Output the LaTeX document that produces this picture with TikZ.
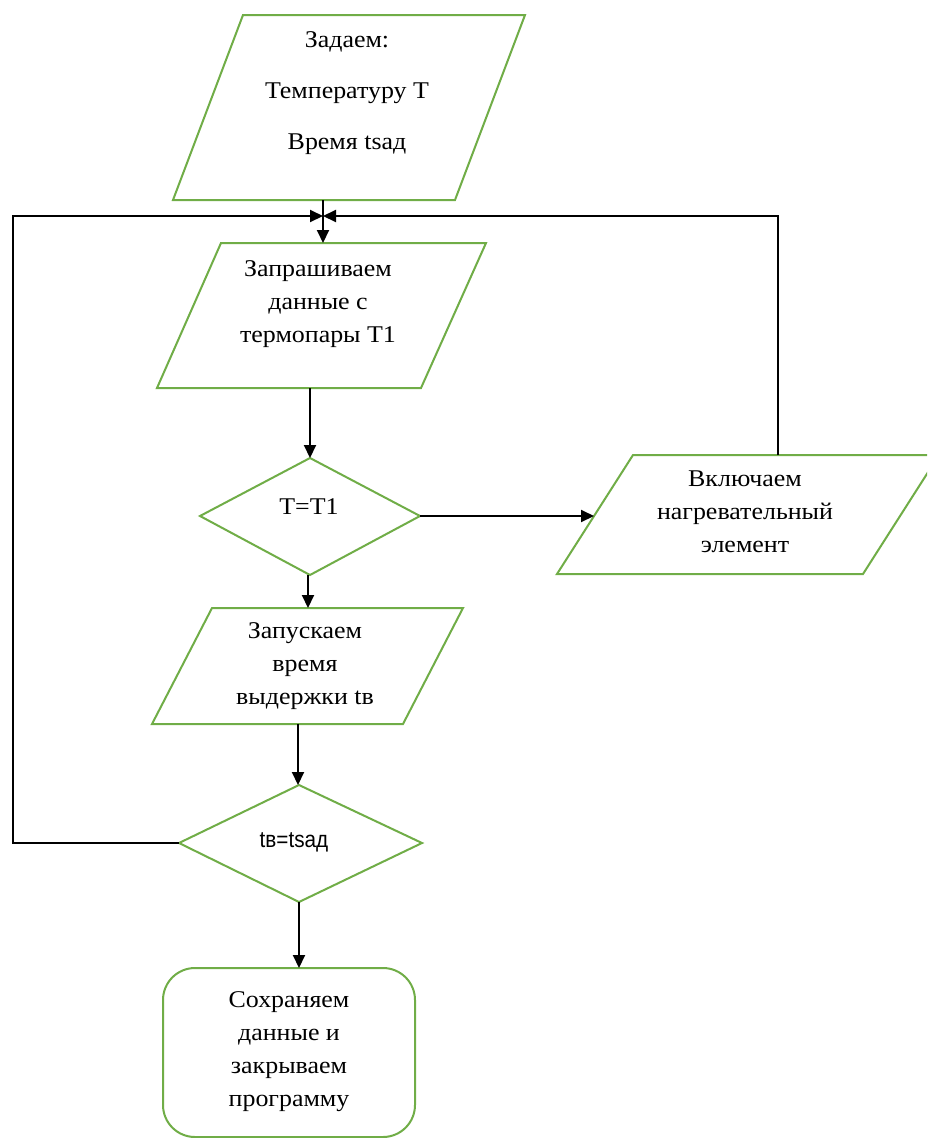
\documentclass[tikz,border=0pt]{standalone}
\usepackage{fontspec}
\setmainfont{Liberation Serif}
\newfontfamily\condsans{Liberation Sans}
\usetikzlibrary{arrows.meta}
\definecolor{boxgreen}{RGB}{112,173,71}
\tikzset{
  shapeline/.style={draw=boxgreen, line width=2pt, line join=miter, fill=white},
  conn/.style={draw=black, line width=2pt},
  arr/.style={conn, -{Triangle[length=13pt,width=12pt]}},
  txt/.style={align=center, font=\fontsize{24}{33}\selectfont, inner sep=0pt, xscale=1.08},
}
\begin{document}
\begin{tikzpicture}[x=1pt,y=-1pt]
\useasboundingbox (0,0) rectangle (927,1138);
\clip (0,0) rectangle (927,1138);

% shapes
\draw[shapeline] (243,15) -- (525,15) -- (455,200) -- (173,200) -- cycle;
\node[txt] (in) at (347,93) {Задаем:\\[18pt]Температуру Т\\[18pt]Время tsaд};
\coordinate (in-s) at (323,200);

\draw[shapeline] (221,243) -- (486,243) -- (421,388) -- (157,388) -- cycle;
\node[txt] (query) at (318,304) {Запрашиваем\\данные с\\термопары Т1};
\coordinate (query-n) at (323,243);
\coordinate (query-s) at (310,388);

\draw[shapeline] (310,458) -- (420,516) -- (310,575) -- (200,516) -- cycle;
\node[txt] (d1) at (309,507) {Т=Т1};
\coordinate (d1-n) at (310,458);
\coordinate (d1-e) at (420,516);
\coordinate (d1-s) at (308,575);

\draw[shapeline] (633,455) -- (939,455) -- (863,574) -- (557,574) -- cycle;
\node[txt] (heat) at (745,512) {Включаем\\нагревательный\\элемент};
\coordinate (heat-n) at (778,455);
\coordinate (heat-w) at (594,516);

\draw[shapeline] (212,608) -- (463,608) -- (403,724) -- (152,724) -- cycle;
\node[txt] (hold) at (305,666) {Запускаем\\время\\выдержки tв};
\coordinate (hold-n) at (308,608);
\coordinate (hold-s) at (298,724);

\draw[shapeline] (299,785) -- (422,843) -- (299,902) -- (179,843) -- cycle;
\node[inner sep=0pt, xscale=0.9, font=\condsans\fontsize{23}{25}\selectfont] (d2) at (294,842) {tв=tsaд};
\coordinate (d2-n) at (298,785);
\coordinate (d2-w) at (179,843);
\coordinate (d2-s) at (299,902);

\draw[shapeline, rounded corners=32pt] (163,968) rectangle (415,1137);
\node[txt] (end) at (289,1052) {Сохраняем\\данные и\\закрываем\\программу};
\coordinate (end-n) at (299,968);

% loop corners
\coordinate (merge) at (323,216);
\coordinate (lc1) at (13,843);
\coordinate (lc2) at (13,216);
\coordinate (rc1) at (778,216);

% connectors
\draw[arr] (in-s) -- (query-n);
\draw[arr] (d2-w) -- (lc1) -- (lc2) -- (merge);
\draw[arr] (heat-n) -- (rc1) -- (merge);
\draw[arr] (query-s) -- (d1-n);
\draw[arr] (d1-e) -- (heat-w);
\draw[arr] (d1-s) -- (hold-n);
\draw[arr] (hold-s) -- (d2-n);
\draw[arr] (d2-s) -- (end-n);
\end{tikzpicture}
\end{document}
